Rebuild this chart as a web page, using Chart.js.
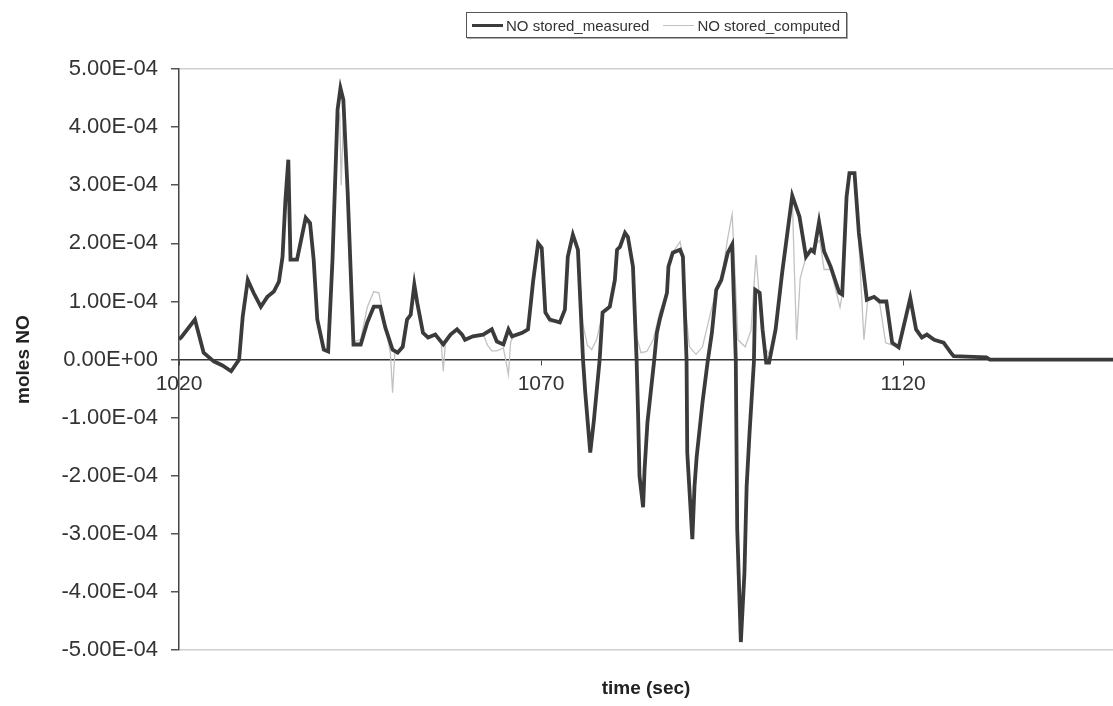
<!DOCTYPE html>
<html>
<head>
<meta charset="utf-8">
<script src="https://cdn.jsdelivr.net/npm/chart.js@4.4.1/dist/chart.umd.min.js"></script>
<style>
  html, body { margin: 0; padding: 0; background: #fff; }
  #wrap { position: relative; width: 1113px; height: 706px; }
  #legend {
    position: absolute; left: 466px; top: 12px; height: 26px;
    box-sizing: border-box; border: 1px solid #555; box-shadow: 1px 1px 0 #aaa;
    background: #fff; display: flex; align-items: center; padding: 0 6px 0 5px;
    font-family: "Liberation Sans", Arial, sans-serif; font-size: 15px; color: #333;
  }
  .item { display: flex; align-items: center; margin-right: 14px; white-space: nowrap; }
  .item:last-child { margin-right: 0; }
  .swatch { display: inline-block; width: 31px; margin-right: 3px; }
</style>
</head>
<body>
<div id="wrap">
  <canvas id="noChart" width="1113" height="706"></canvas>
  <div id="legend"></div>
</div>
<script>
// time (sec) and moles NO
const measuredTime = [
  1020.0, 1020.3, 1022.2, 1023.4, 1024.8, 1026.0, 1027.2, 1028.3, 1028.8, 1029.5,
  1030.3, 1031.3, 1032.2, 1033.1, 1033.8, 1034.3, 1034.7, 1035.1, 1035.4, 1036.3,
  1037.5, 1038.1, 1038.6, 1039.1, 1040.0, 1040.6, 1041.2, 1041.9, 1042.3, 1042.7,
  1043.3, 1044.1, 1045.1, 1046.0, 1046.9, 1047.8, 1048.5, 1049.5, 1050.2, 1050.9,
  1051.5, 1052.0, 1052.5, 1052.9, 1053.7, 1054.4, 1055.4, 1056.5, 1057.5, 1058.4,
  1059.1, 1059.5, 1060.6, 1062.0, 1063.2, 1063.9, 1064.8, 1065.5, 1066.0, 1067.4,
  1068.2, 1068.6, 1068.9, 1069.6, 1070.1, 1070.6, 1071.2, 1072.6, 1073.3, 1073.7,
  1074.4, 1075.1, 1075.8, 1076.1, 1076.8, 1077.3, 1078.1, 1078.5, 1079.5, 1080.2,
  1080.5, 1080.9, 1081.6, 1082.0, 1082.7, 1083.2, 1083.4, 1083.6, 1084.1, 1084.3,
  1084.7, 1085.6, 1086.0, 1086.4, 1087.4, 1087.6, 1088.2, 1089.2, 1089.6, 1090.1,
  1090.2, 1090.9, 1091.2, 1091.5, 1092.3, 1093.0, 1093.6, 1094.2, 1094.9, 1095.8,
  1096.4, 1096.9, 1097.1, 1097.6, 1098.1, 1098.4, 1098.8, 1099.4, 1099.6, 1100.2,
  1100.6, 1101.1, 1101.5, 1102.4, 1103.3, 1104.7, 1105.7, 1106.6, 1107.3, 1107.7,
  1108.4, 1109.1, 1110.0, 1111.2, 1111.6, 1112.2, 1112.6, 1113.3, 1113.9, 1115.0,
  1116.0, 1116.8, 1117.7, 1118.5, 1119.4, 1120.4, 1121.0, 1121.8, 1122.6, 1123.3,
  1124.3, 1125.6, 1126.6, 1127.0, 1131.5, 1132.0, 1149.0
];
const measuredValues = [
  0.35e-4, 0.38e-4, 0.69e-4, 0.12e-4, -0.03e-4, -0.10e-4, -0.20e-4, 0.00e-4, 0.74e-4, 1.37e-4,
  1.15e-4, 0.91e-4, 1.08e-4, 1.17e-4, 1.34e-4, 1.77e-4, 2.75e-4, 3.44e-4, 1.72e-4, 1.72e-4,
  2.44e-4, 2.35e-4, 1.72e-4, 0.69e-4, 0.17e-4, 0.14e-4, 1.72e-4, 4.30e-4, 4.67e-4, 4.47e-4,
  2.87e-4, 0.26e-4, 0.26e-4, 0.64e-4, 0.91e-4, 0.91e-4, 0.55e-4, 0.17e-4, 0.12e-4, 0.22e-4,
  0.69e-4, 0.77e-4, 1.29e-4, 0.98e-4, 0.46e-4, 0.38e-4, 0.43e-4, 0.26e-4, 0.43e-4, 0.52e-4,
  0.43e-4, 0.34e-4, 0.40e-4, 0.43e-4, 0.52e-4, 0.31e-4, 0.26e-4, 0.52e-4, 0.40e-4, 0.46e-4,
  0.52e-4, 0.98e-4, 1.34e-4, 2.00e-4, 1.92e-4, 0.81e-4, 0.69e-4, 0.64e-4, 0.86e-4, 1.77e-4,
  2.15e-4, 1.89e-4, 0.00e-4, -0.55e-4, -1.60e-4, -1.05e-4, 0.00e-4, 0.81e-4, 0.91e-4, 1.37e-4,
  1.89e-4, 1.94e-4, 2.18e-4, 2.11e-4, 1.60e-4, 0.00e-4, -0.91e-4, -2.00e-4, -2.54e-4, -1.90e-4,
  -1.08e-4, -0.05e-4, 0.46e-4, 0.69e-4, 1.15e-4, 1.60e-4, 1.84e-4, 1.89e-4, 1.77e-4, 0.00e-4,
  -1.60e-4, -3.09e-4, -2.18e-4, -1.67e-4, -0.74e-4, -0.05e-4, 0.46e-4, 1.20e-4, 1.37e-4, 1.84e-4,
  1.98e-4, 0.00e-4, -2.92e-4, -4.86e-4, -3.66e-4, -2.18e-4, -1.26e-4, -0.05e-4, 1.20e-4, 1.15e-4,
  0.52e-4, -0.05e-4, -0.05e-4, 0.52e-4, 1.49e-4, 2.82e-4, 2.46e-4, 1.77e-4, 1.89e-4, 1.85e-4,
  2.37e-4, 1.86e-4, 1.60e-4, 1.15e-4, 1.12e-4, 2.80e-4, 3.21e-4, 3.21e-4, 2.18e-4, 1.03e-4,
  1.08e-4, 1.00e-4, 1.00e-4, 0.29e-4, 0.21e-4, 0.74e-4, 1.06e-4, 0.52e-4, 0.38e-4, 0.43e-4,
  0.34e-4, 0.29e-4, 0.12e-4, 0.06e-4, 0.04e-4, 0.00e-4, 0.00e-4
];

const computedTime = [
  1020.0, 1020.3, 1022.2, 1023.4, 1024.8, 1027.2, 1028.3, 1028.8, 1029.5, 1030.3,
  1031.3, 1032.2, 1033.1, 1033.8, 1034.3, 1034.7, 1035.1, 1035.4, 1036.3, 1037.5,
  1038.1, 1038.6, 1039.1, 1040.0, 1040.6, 1041.2, 1041.9, 1042.2, 1042.4, 1042.7,
  1043.3, 1044.1, 1045.1, 1046.0, 1046.9, 1047.6, 1048.5, 1049.2, 1049.5, 1049.8,
  1050.9, 1051.5, 1052.0, 1052.5, 1052.9, 1053.7, 1054.4, 1055.4, 1056.2, 1056.5,
  1056.8, 1057.5, 1058.4, 1059.1, 1059.5, 1060.6, 1062.0, 1062.6, 1063.2, 1063.9,
  1064.8, 1065.5, 1065.8, 1066.2, 1067.4, 1068.2, 1068.6, 1068.9, 1069.6, 1070.1,
  1070.6, 1071.2, 1072.6, 1073.3, 1073.7, 1074.4, 1075.1, 1075.8, 1076.4, 1077.0,
  1077.7, 1078.5, 1079.5, 1080.2, 1080.5, 1080.9, 1081.6, 1082.0, 1082.7, 1083.2,
  1083.8, 1084.6, 1085.5, 1086.4, 1087.4, 1087.6, 1088.2, 1089.2, 1089.6, 1090.1,
  1090.5, 1091.4, 1092.3, 1093.3, 1094.2, 1094.9, 1095.8, 1096.4, 1096.9, 1097.2,
  1098.2, 1099.0, 1099.7, 1100.2, 1100.8, 1101.5, 1102.4, 1103.3, 1104.7, 1105.0,
  1105.3, 1105.8, 1106.6, 1107.3, 1108.5, 1109.1, 1110.0, 1111.3, 1111.7, 1112.2,
  1112.6, 1113.3, 1113.9, 1114.6, 1115.1, 1116.0, 1116.8, 1117.6, 1118.5, 1119.4,
  1120.4, 1121.0, 1121.8, 1122.6, 1123.3, 1124.3, 1125.6, 1126.6, 1127.0, 1131.5,
  1132.0, 1149.0
];
const computedValues = [
  0.35e-4, 0.38e-4, 0.69e-4, 0.12e-4, -0.03e-4, -0.17e-4, 0.00e-4, 0.74e-4, 1.37e-4, 1.15e-4,
  0.91e-4, 1.08e-4, 1.17e-4, 1.34e-4, 1.77e-4, 2.60e-4, 3.20e-4, 1.72e-4, 1.72e-4, 2.38e-4,
  2.30e-4, 1.72e-4, 0.69e-4, 0.17e-4, 0.14e-4, 1.72e-4, 4.05e-4, 4.20e-4, 3.00e-4, 4.10e-4,
  2.87e-4, 0.30e-4, 0.35e-4, 0.90e-4, 1.17e-4, 1.15e-4, 0.60e-4, 0.10e-4, -0.57e-4, 0.10e-4,
  0.22e-4, 0.69e-4, 0.77e-4, 1.20e-4, 0.98e-4, 0.46e-4, 0.38e-4, 0.45e-4, 0.30e-4, -0.20e-4,
  0.30e-4, 0.43e-4, 0.50e-4, 0.43e-4, 0.34e-4, 0.40e-4, 0.45e-4, 0.25e-4, 0.15e-4, 0.15e-4,
  0.20e-4, -0.26e-4, 0.30e-4, 0.40e-4, 0.46e-4, 0.52e-4, 0.98e-4, 1.34e-4, 2.00e-4, 1.92e-4,
  0.81e-4, 0.65e-4, 0.64e-4, 0.86e-4, 1.77e-4, 2.20e-4, 1.89e-4, 0.60e-4, 0.25e-4, 0.17e-4,
  0.35e-4, 0.81e-4, 0.95e-4, 1.37e-4, 1.89e-4, 1.94e-4, 2.20e-4, 2.11e-4, 1.60e-4, 0.40e-4,
  0.12e-4, 0.14e-4, 0.34e-4, 0.81e-4, 1.15e-4, 1.60e-4, 1.84e-4, 2.03e-4, 1.80e-4, 0.70e-4,
  0.22e-4, 0.09e-4, 0.22e-4, 0.74e-4, 1.20e-4, 1.37e-4, 2.10e-4, 2.50e-4, 1.20e-4, 0.34e-4,
  0.22e-4, 0.50e-4, 1.80e-4, 1.00e-4, 0.22e-4, 0.10e-4, 0.52e-4, 1.49e-4, 2.82e-4, 1.50e-4,
  0.34e-4, 1.40e-4, 1.77e-4, 1.89e-4, 2.06e-4, 1.55e-4, 1.55e-4, 0.90e-4, 1.20e-4, 2.80e-4,
  3.21e-4, 3.21e-4, 2.00e-4, 0.34e-4, 1.00e-4, 1.08e-4, 0.95e-4, 0.29e-4, 0.25e-4, 0.21e-4,
  0.74e-4, 1.06e-4, 0.52e-4, 0.38e-4, 0.43e-4, 0.34e-4, 0.29e-4, 0.12e-4, 0.06e-4, 0.04e-4,
  0.00e-4, 0.00e-4
];

const xTickValues = [1020, 1070, 1120];

// 5.00E-04 style labels like the spreadsheet
function sci(v) {
  const parts = v.toExponential(2).split('e');
  const n = parseInt(parts[1], 10);
  return parts[0] + 'E' + (n < 0 ? '-' : '+') + String(Math.abs(n)).padStart(2, '0');
}

function toPoints(ts, vs) {
  return ts.map((t, i) => ({ x: t, y: vs[i] }));
}

const FONT = '"Liberation Sans", Arial, sans-serif';

const chart = new Chart(document.getElementById('noChart').getContext('2d'), {
  type: 'line',
  data: {
    datasets: [
      {
        label: 'NO stored_measured',
        data: toPoints(measuredTime, measuredValues),
        borderColor: '#3b3b3b',
        borderWidth: 3.8,
        pointRadius: 0,
        tension: 0,
      },
      {
        label: 'NO stored_computed',
        data: toPoints(computedTime, computedValues),
        borderColor: '#c2c2c2',
        borderWidth: 1.3,
        pointRadius: 0,
        tension: 0,
      },
    ],
  },
  options: {
    responsive: false,
    animation: false,
    layout: { padding: { top: 69, left: 0, right: 0, bottom: 0 } },
    plugins: {
      legend: { display: false },
      tooltip: { enabled: false },
      title: {
        display: true,
        position: 'bottom',
        fullSize: false,
        text: 'time (sec)',
        color: '#222',
        font: { family: FONT, size: 19, weight: 'bold' },
        padding: { top: 27, bottom: 6 },
      },
    },
    scales: {
      x: {
        type: 'linear',
        min: 1020,
        max: 1149,
        position: { y: 0 },
        afterBuildTicks: (scale) => {
          scale.ticks = xTickValues.map(v => ({ value: v }));
        },
        ticks: {
          color: '#333',
          font: { family: FONT, size: 21 },
          padding: 7,
          maxRotation: 0,
          autoSkip: false,
          callback: (v) => String(v),
        },
        grid: { drawOnChartArea: false, tickColor: '#444', tickLength: 5 },
        border: { color: '#333', width: 1.5 },
      },
      y: {
        min: -5e-4,
        max: 5e-4,
        ticks: {
          stepSize: 1e-4,
          color: '#333',
          font: { family: FONT, size: 22 },
          padding: 13,
          callback: (v) => sci(v),
        },
        grid: {
          color: (ctx) => (ctx.tick && Math.abs(Math.abs(ctx.tick.value) - 5e-4) < 1e-9 ? '#cfcfcf' : 'rgba(0,0,0,0)'),
          lineWidth: 1.5,
          tickColor: '#555',
          tickLength: 8,
        },
        border: { color: '#444', width: 1.5 },
        title: {
          display: true,
          text: 'moles NO',
          color: '#222',
          font: { family: FONT, size: 19, weight: 'bold' },
          padding: { top: 12, bottom: 0 },
        },
        afterFit: (scale) => { scale.width = 179; },
      },
    },
  },
});

// html legend, boxed like the original
const legendEl = document.getElementById('legend');
const swatchWidths = [3, 1];
chart.data.datasets.forEach((ds, i) => {
  const item = document.createElement('span');
  item.className = 'item';
  const sw = document.createElement('span');
  sw.className = 'swatch';
  sw.style.borderTop = swatchWidths[i] + 'px solid ' + ds.borderColor;
  const txt = document.createElement('span');
  txt.textContent = ds.label;
  item.appendChild(sw);
  item.appendChild(txt);
  legendEl.appendChild(item);
});
</script>
</body>
</html>
